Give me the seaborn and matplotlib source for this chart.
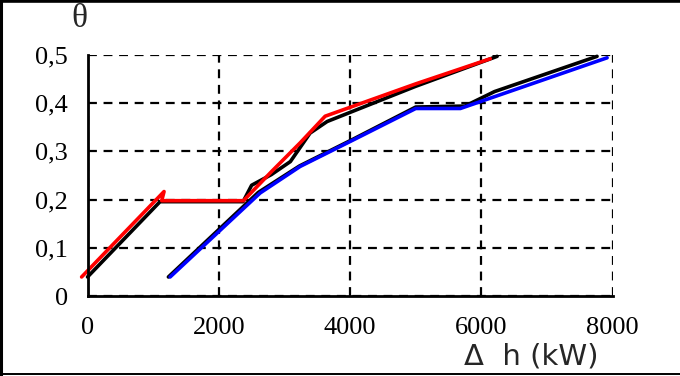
import matplotlib
matplotlib.use("Agg")
import matplotlib.pyplot as plt
from matplotlib.lines import Line2D
import seaborn as sns
import pandas as pd

# series
x_black1 = [0, 1105, 2370, 2500, 2800, 3090, 3390, 3650, 5000, 6240]
y_black1 = [0.040, 0.196, 0.196, 0.230, 0.252, 0.279, 0.338, 0.362, 0.435, 0.497]

x_black2 = [1232, 2600, 3230, 4040, 5000, 5750, 6200, 7762]
y_black2 = [0.040, 0.215, 0.270, 0.325, 0.392, 0.394, 0.424, 0.497]

x_red = [-90, 1166, 1130, 2375, 2808, 3240, 3620, 5000, 6136]
y_red = [0.040, 0.217, 0.198, 0.198, 0.259, 0.318, 0.373, 0.440, 0.492]

x_blue = [1258, 2630, 3240, 4050, 5000, 5680, 7915]
y_blue = [0.040, 0.214, 0.269, 0.324, 0.389, 0.389, 0.494]

x_ticks = [0, 2000, 4000, 6000, 8000]
y_ticks = [0, 0.1, 0.2, 0.3, 0.4, 0.5]
y_tick_labels = ["0", "0,1", "0,2", "0,3", "0,4", "0,5"]

sns.set_theme(style="white")
plt.rcParams["font.family"] = ["Liberation Serif", "DejaVu Serif"]

fig = plt.figure(figsize=(6.8, 3.76), dpi=100)
ax = fig.add_axes([0.1287, 0.212, 0.901 - 0.1287, 0.854 - 0.212])

series = [
    (x_black1, y_black1, "black"),
    (x_black2, y_black2, "black"),
    (x_red, y_red, "#ff0000"),
    (x_blue, y_blue, "#0000ff"),
]
for xs, ys, color in series:
    df = pd.DataFrame({"x": xs, "y": ys})
    sns.lineplot(data=df, x="x", y="y", sort=False, estimator=None,
                 color=color, linewidth=2.6, ax=ax, clip_on=False, zorder=3)

ax.set_xlim(0, 8000)
ax.set_ylim(0, 0.5)
ax.set_xticks(x_ticks)
ax.set_xticklabels([str(v) for v in x_ticks])
ax.set_yticks(y_ticks)
ax.set_yticklabels(y_tick_labels)
ax.set_xlabel("")
ax.set_ylabel("")

ax.grid(True, color="black", linestyle=(0, (4, 3)), linewidth=1.6)
ax.set_axisbelow(True)

for side in ["top", "right"]:
    ax.spines[side].set_visible(False)
for side in ["left", "bottom"]:
    ax.spines[side].set_color("black")
    ax.spines[side].set_linewidth(2.0)
    ax.spines[side].set_zorder(4)

ax.tick_params(axis="both", which="major", direction="inout", length=12,
               width=1.8, color="black", labelsize=19, labelcolor="black")
ax.tick_params(axis="x", pad=9)
ax.tick_params(axis="y", pad=8)
ax.patch.set_alpha(0)

fig.text(79 / 680, 1 - 19 / 376, "θ", fontsize=24, ha="center", va="center",
         family=["Liberation Serif", "DejaVu Serif"])
fig.text(531 / 680, 1 - 357 / 376, "Δ  h (kW)", fontsize=21, ha="center",
         va="center", family=["DejaVu Sans"])

# frame around the picture (top, left, bottom)
fig.add_artist(Line2D([0, 1], [1 - 1 / 376, 1 - 1 / 376], transform=fig.transFigure,
                      color="black", linewidth=2.6))
fig.add_artist(Line2D([1 / 680, 1 / 680], [0, 1], transform=fig.transFigure,
                      color="black", linewidth=2.2))
fig.add_artist(Line2D([0, 1], [2 / 376, 2 / 376], transform=fig.transFigure,
                      color="black", linewidth=1.4))

fig.savefig("out.png", dpi=100, facecolor="white")
